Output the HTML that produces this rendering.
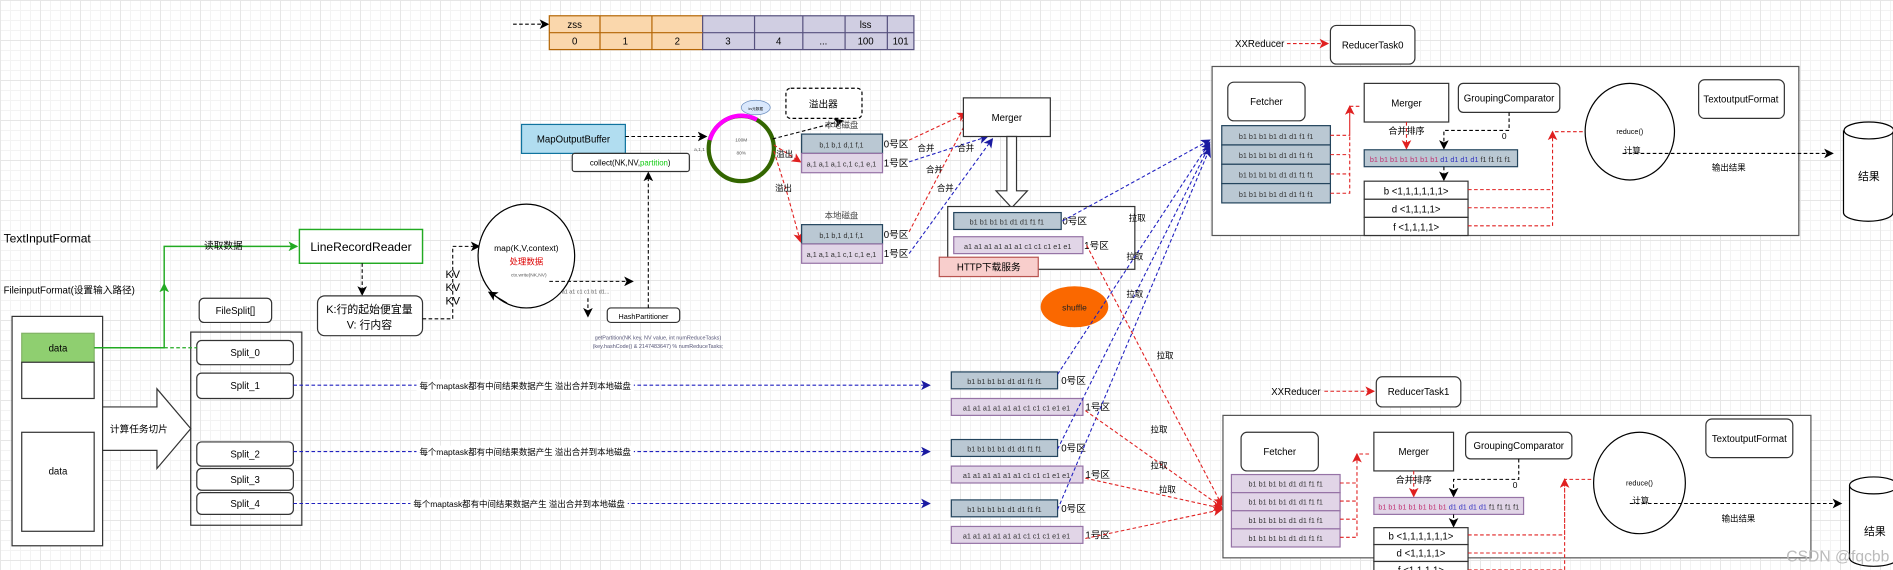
<!DOCTYPE html>
<html><head><meta charset="utf-8">
<style>
html,body{margin:0;padding:0;width:1893px;height:570px;overflow:hidden;background:#fff;
background-image:linear-gradient(#e6e6e6 1px,transparent 1px),linear-gradient(90deg,#e6e6e6 1px,transparent 1px),linear-gradient(#f3f3f3 1px,transparent 1px),linear-gradient(90deg,#f3f3f3 1px,transparent 1px);
background-size:40px 40px,40px 40px,10px 10px,10px 10px;}
svg{position:absolute;left:0;top:0}
text{font-family:"Liberation Sans","Noto Sans CJK SC",sans-serif;font-size:8px;fill:#000}
.c{text-anchor:middle}
.bx{fill:#fff;stroke:#333;stroke-width:1}
.bl{fill:#bac8d3;stroke:#23445d;stroke-width:1}
.pu{fill:#e1d5e7;stroke:#9673a6;stroke-width:1}
.dk{stroke:#000;stroke-width:.9;stroke-dasharray:3 2;fill:none}
.rd{stroke:#e02020;stroke-width:.9;stroke-dasharray:3 2;fill:none}
.bd{stroke:#2020c0;stroke-width:.9;stroke-dasharray:3 2;fill:none}
</style></head><body>
<svg width="1893" height="570" viewBox="0 0 1568 472">
<defs>
<marker id="ak" markerWidth="8" markerHeight="8" refX="7" refY="4" orient="auto" markerUnits="userSpaceOnUse"><path d="M0,0L8,4L0,8L2,4z" fill="#000"/></marker>
<marker id="ar" markerWidth="8" markerHeight="8" refX="7" refY="4" orient="auto" markerUnits="userSpaceOnUse"><path d="M0,0L8,4L0,8L2,4z" fill="#e02020"/></marker>
<marker id="ab" markerWidth="8" markerHeight="8" refX="7" refY="4" orient="auto" markerUnits="userSpaceOnUse"><path d="M0,0L8,4L0,8L2,4z" fill="#1a1aa0"/></marker>
<marker id="ag" markerWidth="8" markerHeight="8" refX="7" refY="4" orient="auto" markerUnits="userSpaceOnUse"><path d="M0,0L8,4L0,8L2,4z" fill="#2a2"/></marker>
</defs>

<!-- top array -->
<line x1="425" y1="20" x2="454" y2="20" class="dk" marker-end="url(#ak)"/>
<g stroke-width="1">
<rect x="455" y="13" width="127" height="28" fill="#fad7ac" stroke="#b46504"/>
<rect x="582" y="13" width="175" height="28" fill="#d0cee2" stroke="#56517e"/>
<path d="M455,27H582M497,13V41M540,13V41" stroke="#b46504" fill="none"/>
<path d="M582,27H757M625,13V41M665,13V41M700,13V41M735,13V41" stroke="#56517e" fill="none"/>
</g>
<text x="476" y="23" class="c">zss</text><text x="717" y="23" class="c">lss</text>
<text x="476" y="37" class="c">0</text><text x="518" y="37" class="c">1</text><text x="561" y="37" class="c">2</text><text x="603" y="37" class="c">3</text><text x="645" y="37" class="c">4</text><text x="682" y="37" class="c">...</text><text x="717" y="37" class="c">100</text><text x="746" y="37" class="c">101</text>

<!-- left -->
<text x="3" y="201" style="font-size:10px">TextInputFormat</text>
<text x="3" y="243">FileinputFormat(设置输入路径)</text>
<rect x="10" y="262" width="75" height="190" class="bx"/>
<rect x="18" y="276" width="60" height="24" fill="#8fcf70" stroke="#82b366"/><text x="48" y="291" class="c">data</text>
<rect x="18" y="300" width="60" height="30" class="bx"/>
<rect x="18" y="358" width="60" height="82" class="bx"/><text x="48" y="393" class="c">data</text>
<path d="M85,337H130V322L158,355L130,388V373H85z" fill="#fff" stroke="#333"/>
<text x="115" y="358" class="c">计算任务切片</text>
<rect x="165" y="247" width="60" height="20" rx="4" class="bx"/><text x="195" y="260" class="c">FileSplit[]</text>
<rect x="158" y="275" width="92" height="160" fill="none" stroke="#333"/>
<rect x="163" y="282" width="80" height="20" rx="4" class="bx"/><text x="203" y="295" class="c">Split_0</text>
<rect x="163" y="309" width="80" height="21" rx="4" class="bx"/><text x="203" y="322" class="c">Split_1</text>
<rect x="163" y="366" width="80" height="20" rx="4" class="bx"/><text x="203" y="379" class="c">Split_2</text>
<rect x="163" y="388" width="80" height="18" rx="4" class="bx"/><text x="203" y="400" class="c">Split_3</text>
<rect x="163" y="408" width="80" height="18" rx="4" class="bx"/><text x="203" y="420" class="c">Split_4</text>
<path d="M78,288H136V204H246" stroke="#2a2" stroke-width="1.2" fill="none" marker-end="url(#ag)"/>
<line x1="136" y1="288" x2="163" y2="288" stroke="#2a2" stroke-dasharray="3 2"/>
<line x1="136" y1="250" x2="136" y2="235" stroke="#2a2" marker-end="url(#ag)"/>
<text x="185" y="206" class="c">读取数据</text>
<rect x="248" y="190" width="102" height="28" fill="#fff" stroke="#2a2" stroke-width="1.2"/><text x="299" y="208" class="c" style="font-size:10px">LineRecordReader</text>
<line x1="300" y1="218" x2="300" y2="244" class="dk" marker-end="url(#ak)"/>
<rect x="263" y="245" width="87" height="33" rx="6" class="bx"/>
<text x="306" y="259" class="c" style="font-size:9px">K:行的起始便宜量</text><text x="306" y="272" class="c" style="font-size:9px">V: 行内容</text>
<path d="M350,264H375V204H397" class="dk" marker-end="url(#ak)"/>
<text x="369" y="230" style="font-size:9px">KV</text><text x="369" y="241" style="font-size:9px">KV</text><text x="369" y="252" style="font-size:9px">KV</text>
<ellipse cx="436" cy="212" rx="40" ry="43" fill="#fff" stroke="#000"/>
<text x="436" y="208" class="c" style="font-size:7px">map(K,V,context)</text>
<text x="436" y="219" class="c" style="font-size:7px;fill:#d00">处理数据</text>
<text x="438" y="229" class="c" style="font-size:4px;fill:#555">ctx.write(NK,NV)</text>
<line x1="455" y1="233" x2="524" y2="233" class="dk" marker-end="url(#ak)"/>
<path d="M420,251L405,242" stroke="#000" marker-end="url(#ak)"/>
<text x="485" y="243" class="c" style="font-size:4.5px;fill:#555">a1 a1 c1 c1 b1 d1...</text>
<line x1="487" y1="247" x2="487" y2="262" class="dk" marker-end="url(#ak)"/>
<rect x="503" y="255" width="60" height="12" rx="3" class="bx"/><text x="533" y="264" class="c" style="font-size:6px">HashPartitioner</text>
<line x1="537" y1="255" x2="537" y2="143" class="dk" marker-end="url(#ak)"/>
<text x="545" y="281" class="c" style="font-size:4.5px;fill:#557">getPartition(NK  key, NV value, int numReduceTasks)</text>
<text x="545" y="288" class="c" style="font-size:4.5px;fill:#557">(key.hashCode() &amp; 2147483647) % numReduceTasks;</text>

<!-- MapOutputBuffer -->
<rect x="432" y="103" width="86" height="24" fill="#b1ddf0" stroke="#10739e"/><text x="475" y="118" class="c">MapOutputBuffer</text>
<rect x="474" y="127" width="97" height="15" rx="2" class="bx"/><text x="522" y="137" class="c" style="font-size:6.5px">collect(NK,NV,<tspan style="fill:#1c1">partition</tspan>)</text>
<line x1="518" y1="113" x2="585" y2="113" class="dk" marker-end="url(#ak)"/>
<circle cx="614" cy="123" r="27" fill="none" stroke="#336600" stroke-width="3.5"/>
<path d="M588,116A27,27 0 0 1 627,99" fill="none" stroke="#f0f" stroke-width="3.5"/>
<ellipse cx="626" cy="89" rx="12" ry="6" fill="#dae8fc" stroke="#6c8ebf" stroke-width=".6"/>
<text x="626" y="91" class="c" style="font-size:3px">kv元数据</text>
<text x="614" y="117" class="c" style="font-size:4px;fill:#555">100M</text><text x="614" y="128" class="c" style="font-size:4px;fill:#555">80%</text>
<text x="575" y="125" style="font-size:4px;fill:#555">a,1,1</text>
<line x1="640" y1="115" x2="698" y2="100" class="dk" marker-end="url(#ak)"/>
<rect x="651" y="73" width="63" height="25" rx="4" fill="#fff" stroke="#000" stroke-dasharray="3 2"/><text x="682" y="89" class="c">溢出器</text>
<line x1="641" y1="120" x2="663" y2="134" class="rd" marker-end="url(#ar)"/>
<path d="M641,125L652,160L663,200" class="rd" marker-end="url(#ar)"/>
<text x="643" y="130" style="font-size:7px">溢出</text><text x="642" y="158" style="font-size:7px">溢出</text>
<text x="697" y="106" class="c" style="font-size:7px;fill:#444">本地磁盘</text>
<rect x="664" y="111" width="67" height="16" class="bl"/><text x="697" y="122" class="c" style="font-size:6px;fill:#333">b,1 b,1 d,1 f,1</text>
<rect x="664" y="127" width="67" height="16" class="pu"/><text x="697" y="138" class="c" style="font-size:6px;fill:#333">a,1 a,1 a,1 c,1 c,1 e,1</text>
<text x="732" y="122" style="font-size:8px">0号区</text><text x="732" y="138" style="font-size:8px">1号区</text>
<text x="697" y="181" class="c" style="font-size:7px;fill:#444">本地磁盘</text>
<rect x="664" y="186" width="67" height="16" class="bl"/><text x="697" y="197" class="c" style="font-size:6px;fill:#333">b,1 b,1 d,1 f,1</text>
<rect x="664" y="202" width="67" height="16" class="pu"/><text x="697" y="213" class="c" style="font-size:6px;fill:#333">a,1 a,1 a,1 c,1 c,1 e,1</text>
<text x="732" y="197" style="font-size:8px">0号区</text><text x="732" y="213" style="font-size:8px">1号区</text>
<line x1="753" y1="116" x2="800" y2="94" class="rd" marker-end="url(#ar)"/>
<line x1="753" y1="192" x2="803" y2="96" class="rd" marker-end="url(#ar)"/>
<line x1="753" y1="134" x2="818" y2="113" class="bd" marker-end="url(#ab)"/>
<line x1="753" y1="210" x2="822" y2="115" class="bd" marker-end="url(#ab)"/>
<text x="760" y="125" style="font-size:7px">合并</text><text x="793" y="125" style="font-size:7px">合并</text><text x="767" y="143" style="font-size:7px">合并</text><text x="776" y="158" style="font-size:7px">合并</text>
<rect x="798" y="81" width="72" height="32" fill="#fff" stroke="#333"/><text x="834" y="100" class="c">Merger</text>
<path d="M834,113H842V158H851L838,172L825,158H834z" fill="#fff" stroke="#333"/>
<rect x="785" y="171" width="155" height="52" class="bx"/>
<rect x="790" y="176" width="89" height="14" class="bl"/><text x="834" y="186" class="c" style="font-size:6px;fill:#333">b1 b1  b1 b1 d1 d1 f1 f1</text>
<text x="880" y="186" style="font-size:8px">0号区</text>
<rect x="790" y="196" width="107" height="14" class="pu"/><text x="843" y="206" class="c" style="font-size:6px;fill:#333">a1 a1 a1 a1 a1 a1 c1 c1 c1 e1 e1</text>
<text x="898" y="206" style="font-size:8px">1号区</text>
<rect x="778" y="213" width="82" height="16" fill="#f8cecc" stroke="#b85450"/><text x="819" y="224" class="c" style="font-size:8px">HTTP下载服务</text>
<ellipse cx="890" cy="254" rx="28" ry="17" fill="#fa6800"/><text x="890" y="257" class="c" style="font-size:7px;fill:#222">shuffle</text>

<!-- lower partitions -->
<g>
<rect x="788" y="308" width="88" height="14" class="bl"/><text x="832" y="318" class="c" style="font-size:6px;fill:#333">b1 b1  b1 b1 d1 d1 f1 f1</text><text x="879" y="318" style="font-size:8px">0号区</text>
<rect x="788" y="330" width="109" height="14" class="pu"/><text x="842" y="340" class="c" style="font-size:6px;fill:#333">a1 a1 a1 a1 a1 a1 c1 c1 c1 e1 e1</text><text x="899" y="340" style="font-size:8px">1号区</text>
<rect x="788" y="364" width="88" height="14" class="bl"/><text x="832" y="374" class="c" style="font-size:6px;fill:#333">b1 b1  b1 b1 d1 d1 f1 f1</text><text x="879" y="374" style="font-size:8px">0号区</text>
<rect x="788" y="386" width="109" height="14" class="pu"/><text x="842" y="396" class="c" style="font-size:6px;fill:#333">a1 a1 a1 a1 a1 a1 c1 c1 c1 e1 e1</text><text x="899" y="396" style="font-size:8px">1号区</text>
<rect x="788" y="414" width="88" height="14" class="bl"/><text x="832" y="424" class="c" style="font-size:6px;fill:#333">b1 b1  b1 b1 d1 d1 f1 f1</text><text x="879" y="424" style="font-size:8px">0号区</text>
<rect x="788" y="436" width="109" height="14" class="pu"/><text x="842" y="446" class="c" style="font-size:6px;fill:#333">a1 a1 a1 a1 a1 a1 c1 c1 c1 e1 e1</text><text x="899" y="446" style="font-size:8px">1号区</text>
</g>
<line x1="243" y1="319" x2="770" y2="319" class="bd" marker-end="url(#ab)"/>
<line x1="243" y1="374" x2="770" y2="374" class="bd" marker-end="url(#ab)"/>
<line x1="243" y1="417" x2="770" y2="417" class="bd" marker-end="url(#ab)"/>
<rect x="345" y="314" width="180" height="10" fill="#fff"/><text x="435" y="322" class="c" style="font-size:7px">每个maptask都有中间结果数据产生 溢出合并到本地磁盘</text>
<rect x="345" y="369" width="180" height="10" fill="#fff"/><text x="435" y="377" class="c" style="font-size:7px">每个maptask都有中间结果数据产生 溢出合并到本地磁盘</text>
<rect x="340" y="412" width="180" height="10" fill="#fff"/><text x="430" y="420" class="c" style="font-size:7px">每个maptask都有中间结果数据产生 溢出合并到本地磁盘</text>

<!-- shuffle lines -->
<line x1="876" y1="310" x2="1002" y2="118" class="bd" marker-end="url(#ab)"/>
<line x1="876" y1="372" x2="1002" y2="120" class="bd" marker-end="url(#ab)"/>
<line x1="876" y1="422" x2="1002" y2="123" class="bd" marker-end="url(#ab)"/>
<line x1="880" y1="183" x2="1002" y2="116" class="bd" marker-end="url(#ab)"/>
<line x1="900" y1="203" x2="1012" y2="418" class="rd" marker-end="url(#ar)"/>
<line x1="899" y1="340" x2="1012" y2="420" class="rd" marker-end="url(#ar)"/>
<line x1="899" y1="396" x2="1012" y2="421" class="rd" marker-end="url(#ar)"/>
<line x1="899" y1="446" x2="1012" y2="422" class="rd" marker-end="url(#ar)"/>
<text x="935" y="183" style="font-size:7px">拉取</text><text x="933" y="215" style="font-size:7px">拉取</text>
<text x="933" y="246" style="font-size:7px">拉取</text><text x="958" y="297" style="font-size:7px">拉取</text>
<text x="953" y="358" style="font-size:7px">拉取</text><text x="953" y="388" style="font-size:7px">拉取</text><text x="960" y="408" style="font-size:7px">拉取</text>

<!-- Reducer 0 -->
<text x="1023" y="39" style="font-size:8px">XXReducer</text>
<line x1="1066" y1="36" x2="1100" y2="36" class="rd" marker-end="url(#ar)"/>
<rect x="1102" y="21" width="70" height="32" rx="5" class="bx"/><text x="1137" y="40" class="c">ReducerTask0</text>
<rect x="1004" y="55" width="486" height="140" fill="#fff" stroke="#555"/>
<rect x="1017" y="68" width="64" height="32" rx="5" class="bx"/><text x="1049" y="87" class="c">Fetcher</text>
<rect x="1012" y="104" width="90" height="16" class="bl"/><rect x="1012" y="120" width="90" height="16" class="bl"/><rect x="1012" y="136" width="90" height="16" class="bl"/><rect x="1012" y="152" width="90" height="16" class="bl"/>
<text x="1057" y="115" class="c" style="font-size:6px;fill:#333">b1 b1  b1 b1 d1 d1 f1 f1</text><text x="1057" y="131" class="c" style="font-size:6px;fill:#333">b1 b1  b1 b1 d1 d1 f1 f1</text><text x="1057" y="147" class="c" style="font-size:6px;fill:#333">b1 b1  b1 b1 d1 d1 f1 f1</text><text x="1057" y="163" class="c" style="font-size:6px;fill:#333">b1 b1  b1 b1 d1 d1 f1 f1</text>
<path d="M1102,112H1118V88H1128M1102,128H1118M1102,144H1118M1102,160H1118V88" class="rd" marker-end="url(#ar)"/>
<rect x="1130" y="69" width="70" height="32" fill="#fff" stroke="#333"/><text x="1165" y="88" class="c">Merger</text>
<rect x="1208" y="69" width="84" height="24" rx="4" class="bx"/><text x="1250" y="84" class="c">GroupingComparator</text>
<line x1="1165" y1="101" x2="1165" y2="123" class="rd" marker-end="url(#ar)"/>
<text x="1165" y="111" class="c" style="font-size:7.5px">合并排序</text>
<path d="M1250,93V108H1196V123" class="dk" marker-end="url(#ak)"/>
<text x="1244" y="115" style="font-size:7px">0</text>
<rect x="1130" y="124" width="127" height="14" class="bl"/>
<text x="1193" y="134" class="c" style="font-size:6px"><tspan style="fill:#c03070">b1 b1 b1 b1 b1 b1 b1 </tspan><tspan style="fill:#3030c0">d1 d1 d1 d1 </tspan><tspan style="fill:#333">f1 f1 f1 f1</tspan></text>
<line x1="1196" y1="138" x2="1196" y2="149" class="dk" marker-end="url(#ak)"/>
<rect x="1130" y="150" width="86" height="15" class="bx"/><text x="1173" y="161" class="c">b &lt;1,1,1,1,1,1&gt;</text>
<rect x="1130" y="165" width="86" height="15" class="bx"/><text x="1173" y="176" class="c">d &lt;1,1,1,1&gt;</text>
<rect x="1130" y="180" width="86" height="15" class="bx"/><text x="1173" y="191" class="c">f &lt;1,1,1,1&gt;</text>
<path d="M1216,157H1286V109H1312M1216,172H1286M1216,187H1286V109" class="rd" marker-end="url(#ar)"/>
<ellipse cx="1350" cy="109" rx="37" ry="40" fill="#fff" stroke="#000"/>
<text x="1350" y="111" class="c" style="font-size:6px">reduce()</text><text x="1345" y="127" style="font-size:7px">计算</text>
<line x1="1344" y1="127" x2="1518" y2="127" class="dk" marker-end="url(#ak)"/>
<text x="1432" y="141" class="c" style="font-size:7px">输出结果</text>
<rect x="1407" y="66" width="71" height="32" rx="5" class="bx"/><text x="1442" y="85" class="c">TextoutputFormat</text>
<path d="M1527,108V176A20,7 0 0 0 1568,176V108" fill="#fff" stroke="#000"/><ellipse cx="1548" cy="108" rx="20.5" ry="7" fill="#fff" stroke="#000"/>
<text x="1548" y="149" class="c" style="font-size:9px">结果</text>

<!-- Reducer 1 -->
<text x="1053" y="327" style="font-size:8px">XXReducer</text>
<line x1="1097" y1="324" x2="1138" y2="324" class="rd" marker-end="url(#ar)"/>
<rect x="1140" y="312" width="70" height="25" rx="5" class="bx"/><text x="1175" y="327" class="c">ReducerTask1</text>
<rect x="1013" y="344" width="487" height="118" fill="#fff" stroke="#555"/>
<rect x="1028" y="358" width="64" height="32" rx="5" class="bx"/><text x="1060" y="377" class="c">Fetcher</text>
<rect x="1020" y="393" width="90" height="15" class="pu"/><rect x="1020" y="408" width="90" height="15" class="pu"/><rect x="1020" y="423" width="90" height="15" class="pu"/><rect x="1020" y="438" width="90" height="15" class="pu"/>
<text x="1065" y="403" class="c" style="font-size:6px;fill:#333">b1 b1  b1 b1 d1 d1 f1 f1</text><text x="1065" y="418" class="c" style="font-size:6px;fill:#333">b1 b1  b1 b1 d1 d1 f1 f1</text><text x="1065" y="433" class="c" style="font-size:6px;fill:#333">b1 b1  b1 b1 d1 d1 f1 f1</text><text x="1065" y="448" class="c" style="font-size:6px;fill:#333">b1 b1  b1 b1 d1 d1 f1 f1</text>
<path d="M1110,400H1124V376H1136M1110,415H1124M1110,430H1124M1110,445H1124V376" class="rd" marker-end="url(#ar)"/>
<rect x="1138" y="358" width="66" height="32" fill="#fff" stroke="#333"/><text x="1171" y="377" class="c">Merger</text>
<rect x="1214" y="358" width="88" height="22" rx="4" class="bx"/><text x="1258" y="372" class="c">GroupingComparator</text>
<line x1="1171" y1="390" x2="1171" y2="411" class="rd" marker-end="url(#ar)"/>
<text x="1171" y="400" class="c" style="font-size:7.5px">合并排序</text>
<path d="M1258,380V397H1204V411" class="dk" marker-end="url(#ak)"/>
<text x="1253" y="404" style="font-size:7px">0</text>
<rect x="1138" y="412" width="124" height="14" class="pu"/>
<text x="1200" y="422" class="c" style="font-size:6px"><tspan style="fill:#c03070">b1 b1 b1 b1 b1 b1 b1 </tspan><tspan style="fill:#3030c0">d1 d1 d1 d1 </tspan><tspan style="fill:#333">f1 f1 f1 f1</tspan></text>
<line x1="1204" y1="426" x2="1204" y2="436" class="dk" marker-end="url(#ak)"/>
<rect x="1138" y="437" width="78" height="14" class="bx"/><text x="1177" y="447" class="c">b &lt;1,1,1,1,1,1&gt;</text>
<rect x="1138" y="451" width="78" height="14" class="bx"/><text x="1177" y="461" class="c">d &lt;1,1,1,1&gt;</text>
<rect x="1138" y="465" width="78" height="14" class="bx"/><text x="1177" y="475" class="c">f &lt;1,1,1,1&gt;</text>
<path d="M1216,443H1296V397H1320M1216,458H1296M1216,472H1296V397" class="rd" marker-end="url(#ar)"/>
<ellipse cx="1358" cy="400" rx="38" ry="42" fill="#fff" stroke="#000"/>
<text x="1358" y="402" class="c" style="font-size:6px">reduce()</text><text x="1352" y="417" style="font-size:7px">计算</text>
<line x1="1350" y1="417" x2="1525" y2="417" class="dk" marker-end="url(#ak)"/>
<text x="1440" y="432" class="c" style="font-size:7px">输出结果</text>
<rect x="1413" y="347" width="72" height="32" rx="5" class="bx"/><text x="1449" y="366" class="c">TextoutputFormat</text>
<path d="M1532,402V462A20,7 0 0 0 1572,462V402" fill="#fff" stroke="#000"/><ellipse cx="1552" cy="402" rx="20" ry="7" fill="#fff" stroke="#000"/>
<text x="1553" y="443" class="c" style="font-size:9px">结果</text>
<text x="1565" y="465" style="font-size:13px;fill:#bbb;text-anchor:end">CSDN @fqcbb</text>
</svg>
</body></html>
